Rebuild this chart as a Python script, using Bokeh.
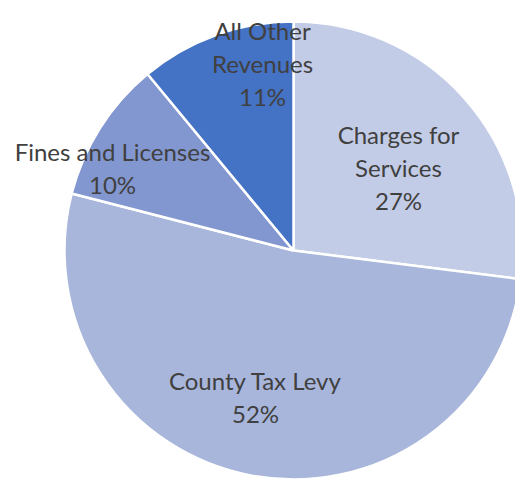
import math
from bokeh.plotting import figure
from bokeh.models import Range1d, ColumnDataSource
from bokeh.core.properties import value
from bokeh.embed import file_html
from bokeh.resources import INLINE

categories = ["Charges for Services", "County Tax Levy", "Fines and Licenses", "All Other Revenues"]
shares = [27, 52, 10, 11]
label_lines = [["Charges for", "Services", "27%"],
               ["County Tax Levy", "52%"],
               ["Fines and Licenses", "10%"],
               ["All Other", "Revenues", "11%"]]
colors = ["#c3cce6", "#a8b6db", "#8297d0", "#4472c4"]

# label anchor centres (pixels relative to pie centre, y up)
label_pos = [(105, 83), (-38, -146), (-181, 83), (-31, 187)]
line_gap = 33

CX, CY, R = 293, 250, 229
W, H = 515, 481

p = figure(width=W, height=H, output_backend="svg", toolbar_location=None,
           x_range=Range1d(-CX, W - CX), y_range=Range1d(CY - H, CY),
           min_border=0)
p.axis.visible = False
p.grid.visible = False
p.outline_line_color = None
p.background_fill_color = "white"
p.border_fill_color = "white"

total = sum(shares)
starts, ends = [], []
cum = 0
for s in shares:
    a0 = cum / total
    cum += s
    a1 = cum / total
    starts.append(math.pi / 2 - 2 * math.pi * a1)
    ends.append(math.pi / 2 - 2 * math.pi * a0)

src = ColumnDataSource(dict(start=starts, end=ends, color=colors, cat=categories))
p.wedge(x=0, y=0, radius=R, start_angle="start", end_angle="end",
        fill_color="color", line_color="white", line_width=2.5, source=src)

tx, ty, tt = [], [], []
for lines, (lx, ly) in zip(label_lines, label_pos):
    n = len(lines)
    for i, t in enumerate(lines):
        tx.append(lx)
        ty.append(ly + (n - 1) / 2 * line_gap - i * line_gap)
        tt.append(t)
p.text(x=tx, y=ty, text=tt, text_align="center", text_baseline="middle",
       text_font=value("Lato"), text_font_size="24px", text_color="#404040")

open("out.html", "w").write(file_html(p, INLINE))
